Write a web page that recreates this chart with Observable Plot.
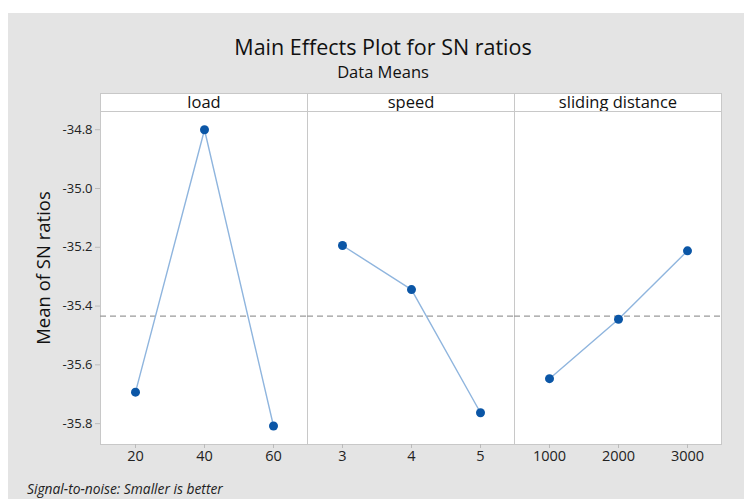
<!DOCTYPE html>
<html><head><meta charset="utf-8">
<script src="https://cdn.jsdelivr.net/npm/d3@7"></script>
<script src="https://cdn.jsdelivr.net/npm/@observablehq/plot@0.6"></script>
<style>
body{margin:0;width:744px;height:499px;position:relative;overflow:hidden;background:#fff;font-family:"Open Sans",sans-serif;color:#111;}
#bg{position:absolute;left:8px;top:13px;right:0;bottom:0;background:#e4e4e4;}
.c{position:absolute;transform:translate(-50%,-50%);white-space:nowrap;}
#title{left:383px;top:46px;font-size:21.5px;}
#subtitle{left:383px;top:71px;font-size:16.5px;}
#ylab{left:42px;top:268px;font-size:18.5px;transform:translate(-50%,-50%) rotate(-90deg);}
#foot{position:absolute;left:27px;top:479px;font-size:13.8px;font-style:italic;color:#222;white-space:nowrap;}
.hd{position:absolute;top:93px;height:19px;box-sizing:border-box;border:1px solid #c8c8c8;background:#fff;text-align:center;font-size:16.5px;line-height:15px;}
#chart{position:absolute;left:0;top:101px;}
</style></head><body>
<div id="bg"></div>
<div id="title" class="c">Main Effects Plot for SN ratios</div>
<div id="subtitle" class="c">Data Means</div>
<div id="ylab" class="c">Mean of SN ratios</div>
<div id="headers"></div>
<div id="chart"></div>
<div id="foot">Signal-to-noise: Smaller is better</div>
<script>
const factors = ["load", "speed", "sliding distance"];
const loadLevels = ["20", "40", "60"];
const loadMeans = [-35.693, -34.800, -35.808];
const speedLevels = ["3", "4", "5"];
const speedMeans = [-35.194, -35.344, -35.763];
const distanceLevels = ["1000", "2000", "3000"];
const distanceMeans = [-35.647, -35.445, -35.212];
const yTicks = [-34.8, -35.0, -35.2, -35.4, -35.6, -35.8];

const levelSets = [loadLevels, speedLevels, distanceLevels];
const meanSets = [loadMeans, speedMeans, distanceMeans];
const rows = [];
factors.forEach((f, k) => levelSets[k].forEach((lv, i) => rows.push({factor: f, level: lv, idx: i, mean: meanSets[k][i]})));
const grandMean = d3.mean(rows, d => d.mean);

const W = 744, H = 398, mL = 100, mR = 23, mT = 10, mB = 55;

const chart = Plot.plot({
  width: W, height: H,
  marginLeft: mL, marginRight: mR, marginTop: mT, marginBottom: mB,
  style: {background: "transparent", fontFamily: "Open Sans", fontSize: "12px", color: "#222", overflow: "visible"},
  fx: {domain: factors, padding: 0, axis: null},
  x: {type: "point", domain: [0, 1, 2], padding: 0.5},
  y: {domain: [-35.871, -34.738]},
  marks: [
    Plot.frame({fill: "white", stroke: "#c8c8c8"}),
    Plot.ruleY([grandMean], {stroke: "#9a9a9a", strokeDasharray: "6,4", strokeWidth: 1.2}),
    Plot.line(rows, {fx: "factor", x: "idx", y: "mean", stroke: "#8fb5de", strokeWidth: 1.4}),
    Plot.dot(rows, {fx: "factor", x: "idx", y: "mean", r: 4.5, fill: "#0b56a6"}),
    Plot.axisX({tickSize: 4, tickFormat: () => "", stroke: "#bbb", label: null}),
    Plot.text(rows, {fx: "factor", x: "idx", text: "level", frameAnchor: "bottom", dy: 16, fontSize: 14.5, fill: "#222"}),
    Plot.axisY({ticks: yTicks, tickFormat: d => d.toFixed(1), tickSize: 5, tickPadding: 3, stroke: "#bbb", fill: "#222", fontSize: 13, label: null})
  ]
});
document.getElementById("chart").appendChild(chart);

// facet header strips
const fxScale = chart.scale("fx");
const hd = document.getElementById("headers");
factors.forEach(f => {
  const d = document.createElement("div");
  d.className = "hd";
  d.style.left = fxScale.apply(f) + "px";
  d.style.width = (fxScale.bandwidth + 1) + "px";
  d.textContent = f;
  hd.appendChild(d);
});
</script>
</body></html>
